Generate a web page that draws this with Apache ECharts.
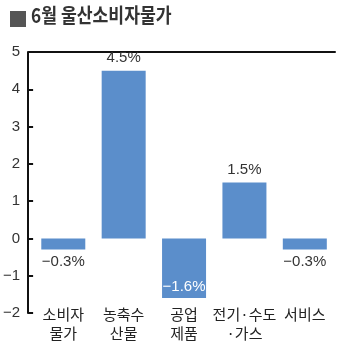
<!DOCTYPE html>
<html><head><meta charset="utf-8">
<script src="https://cdn.jsdelivr.net/npm/echarts@6/dist/echarts.min.js"></script>
<style>html,body{margin:0;padding:0;background:#fff}#c{width:350px;height:344px}</style>
</head><body><div id="c"></div>
<script>
const titleText = '6월 울산소비자물가';
const categories = ['소비자\n물가', '농축수\n산물', '공업\n제품', '전기·수도\n·가스', '서비스'];
const values = [-0.3, 4.5, -1.6, 1.5, -0.3];
const yTicks = [-2, -1, 0, 1, 2, 3, 4, 5];

const chart = echarts.init(document.getElementById('c'));
const numFont = "'Liberation Sans Narrow','Liberation Sans',Arial,sans-serif";
const krFont = "'Noto Sans CJK KR',sans-serif";
chart.setOption({
  animation: false,
  graphic: [
    {type: 'rect', shape: {x: 10, y: 11, width: 16, height: 16}, style: {fill: '#555'}},
    {type: 'text', x: 31, y: 5, scaleX: 0.86, style: {text: titleText, font: "bold 20px 'Noto Sans CJK KR'", fill: '#333'}}
  ],
  grid: {left: 30, right: 15, top: 52, bottom: 31},
  xAxis: [
    {type: 'category', data: categories, position: 'bottom',
     axisLine: {show: false}, axisTick: {show: false},
     axisLabel: {margin: -8, color: '#222', fontSize: 15, lineHeight: 19, fontFamily: krFont, interval: 0}},
    {type: 'category', data: categories, position: 'top',
     axisLine: {show: true, onZero: true, lineStyle: {color: '#111', width: 2}},
     axisTick: {show: false}, axisLabel: {show: false}}
  ],
  yAxis: {type: 'value', min: yTicks[0], max: yTicks[yTicks.length-1], interval: 1, offset: 5,
    axisLine: {show: true, lineStyle: {color: '#111', width: 2}},
    axisTick: {show: true, inside: true, length: 5, lineStyle: {color: '#111', width: 2}},
    splitLine: {show: false},
    axisLabel: {margin: 8, color: '#333', fontSize: 15, fontFamily: numFont,
      formatter: v => (v < 0 ? '\u2212' + Math.abs(v) : String(v))}
  },
  series: [{
    type: 'bar', xAxisIndex: 0, barWidth: 44,
    itemStyle: {color: '#5b8ecb'},
    data: values.map(v => ({
      value: v,
      label: {show: true,
        position: v === -1.6 ? 'insideBottom' : (v < 0 ? 'bottom' : 'top'),
        color: v === -1.6 ? '#fff' : '#333',
        distance: v === -1.6 ? 4 : 5,
        fontSize: 15, fontFamily: numFont,
        formatter: p => (p.value < 0 ? '\u2212' + Math.abs(p.value).toFixed(1) : p.value.toFixed(1)) + '%'}
    }))
  }]
});
</script></body></html>
